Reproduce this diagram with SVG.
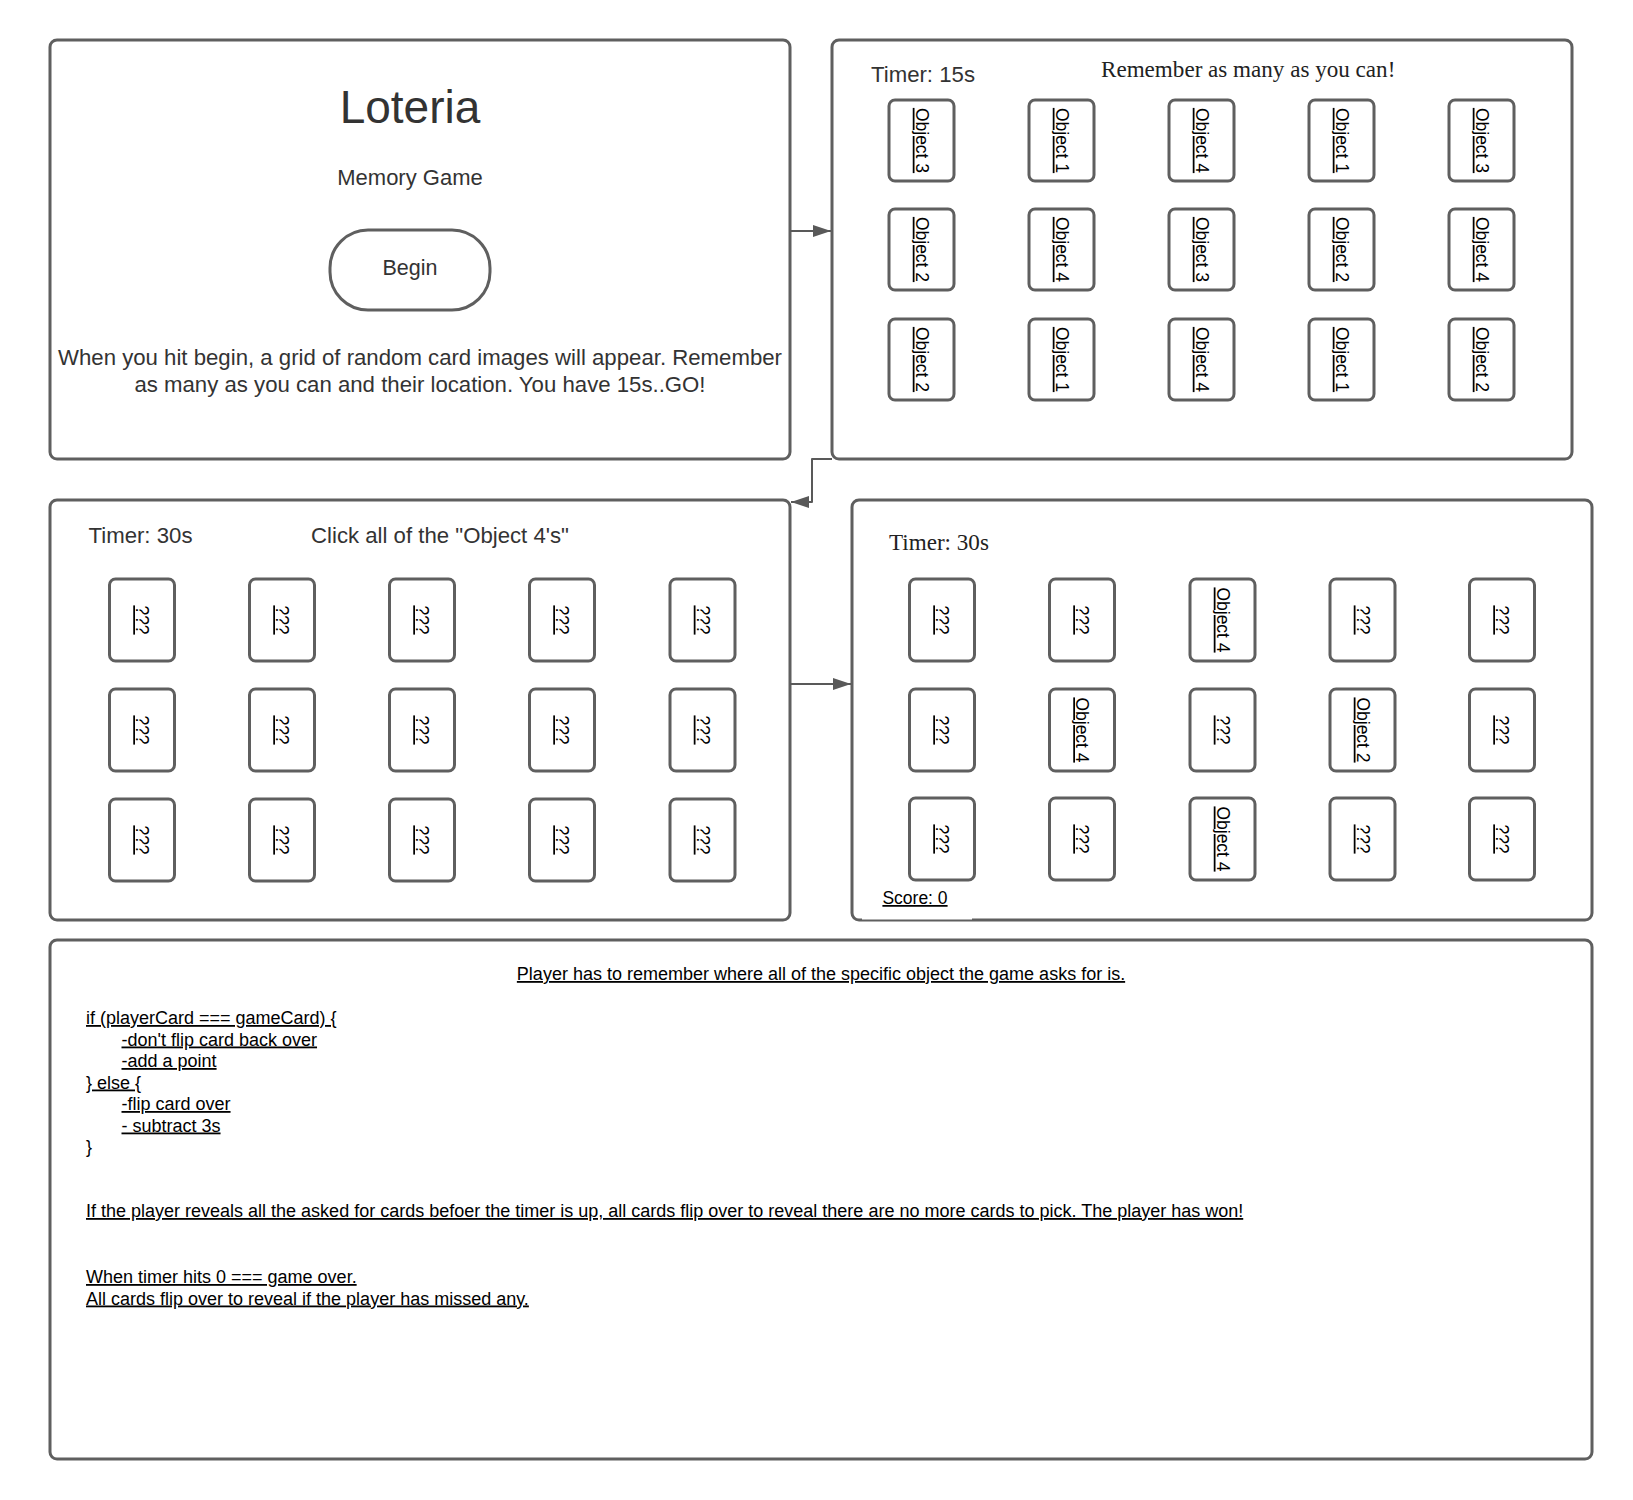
<svg xmlns="http://www.w3.org/2000/svg" width="1633" height="1500" viewBox="0 0 1633 1500">
<style>
.panel{fill:#fff;stroke:#5f5f5f;stroke-width:3}
.card{fill:#fff;stroke:#5f5f5f;stroke-width:3}
.ui{font-family:"Liberation Sans",Arial,sans-serif;fill:#333}
.serif{font-family:"Liberation Serif","Times New Roman",serif;fill:#222}
.ct{font-family:"Liberation Sans",Arial,sans-serif;font-size:17.5px;fill:#000;text-anchor:middle;text-decoration:underline}
.note{font-family:"Liberation Sans",Arial,sans-serif;font-size:18px;fill:#000;text-decoration:underline}
.conn{fill:none;stroke:#595959;stroke-width:2;stroke-linejoin:round}
</style>
<defs>
<marker id="arr" markerUnits="userSpaceOnUse" markerWidth="20" markerHeight="14" refX="18" refY="6" orient="auto">
<path d="M0,0 L18,6 L0,12 z" fill="#595959"/>
</marker>
</defs>
<rect width="1633" height="1500" fill="#fff"/>

<g id="panel-start">
<rect class="panel" x="50" y="40" width="740" height="419" rx="7"/>
<text class="ui" x="410" y="123" font-size="46" text-anchor="middle">Loteria</text>
<text class="ui" x="410" y="185" font-size="22" text-anchor="middle">Memory Game</text>
<g id="begin-button">
<rect class="card" x="330" y="230" width="160" height="80" rx="38"/>
<text class="ui" x="410" y="275" font-size="21.5" text-anchor="middle">Begin</text>
</g>
<text class="ui" font-size="22.2" text-anchor="middle"><tspan x="420" y="365">When you hit begin, a grid of random card images will appear. Remember</tspan><tspan x="420" y="391.5">as many as you can and their location. You have 15s..GO!</tspan></text>
</g>

<g id="panel-memorize">
<rect class="panel" x="832" y="40" width="740" height="419" rx="7"/>
<text class="ui" x="871" y="82" font-size="22.2">Timer: 15s</text>
<text class="serif" x="1101" y="77" font-size="23.1">Remember as many as you can!</text>
<g id="m-r1">
<rect class="card" x="889" y="100" width="65" height="81" rx="6"/><text class="ct" transform="translate(921.5,140.5) rotate(90)" y="6">Object 3</text>
<rect class="card" x="1029" y="100" width="65" height="81" rx="6"/><text class="ct" transform="translate(1061.5,140.5) rotate(90)" y="6">Object 1</text>
<rect class="card" x="1169" y="100" width="65" height="81" rx="6"/><text class="ct" transform="translate(1201.5,140.5) rotate(90)" y="6">Object 4</text>
<rect class="card" x="1309" y="100" width="65" height="81" rx="6"/><text class="ct" transform="translate(1341.5,140.5) rotate(90)" y="6">Object 1</text>
<rect class="card" x="1449" y="100" width="65" height="81" rx="6"/><text class="ct" transform="translate(1481.5,140.5) rotate(90)" y="6">Object 3</text>
</g>
<g id="m-r2">
<rect class="card" x="889" y="209" width="65" height="81" rx="6"/><text class="ct" transform="translate(921.5,249.5) rotate(90)" y="6">Object 2</text>
<rect class="card" x="1029" y="209" width="65" height="81" rx="6"/><text class="ct" transform="translate(1061.5,249.5) rotate(90)" y="6">Object 4</text>
<rect class="card" x="1169" y="209" width="65" height="81" rx="6"/><text class="ct" transform="translate(1201.5,249.5) rotate(90)" y="6">Object 3</text>
<rect class="card" x="1309" y="209" width="65" height="81" rx="6"/><text class="ct" transform="translate(1341.5,249.5) rotate(90)" y="6">Object 2</text>
<rect class="card" x="1449" y="209" width="65" height="81" rx="6"/><text class="ct" transform="translate(1481.5,249.5) rotate(90)" y="6">Object 4</text>
</g>
<g id="m-r3">
<rect class="card" x="889" y="319" width="65" height="81" rx="6"/><text class="ct" transform="translate(921.5,359.5) rotate(90)" y="6">Object 2</text>
<rect class="card" x="1029" y="319" width="65" height="81" rx="6"/><text class="ct" transform="translate(1061.5,359.5) rotate(90)" y="6">Object 1</text>
<rect class="card" x="1169" y="319" width="65" height="81" rx="6"/><text class="ct" transform="translate(1201.5,359.5) rotate(90)" y="6">Object 4</text>
<rect class="card" x="1309" y="319" width="65" height="81" rx="6"/><text class="ct" transform="translate(1341.5,359.5) rotate(90)" y="6">Object 1</text>
<rect class="card" x="1449" y="319" width="65" height="81" rx="6"/><text class="ct" transform="translate(1481.5,359.5) rotate(90)" y="6">Object 2</text>
</g>
</g>

<g id="panel-hidden">
<rect class="panel" x="50" y="500" width="740" height="420" rx="7"/>
<text class="ui" x="88.5" y="543" font-size="22.2">Timer: 30s</text>
<text class="ui" x="311" y="543" font-size="22.2">Click all of the "Object 4's"</text>
<g id="h-r1">
<rect class="card" x="109.5" y="579" width="65" height="82" rx="6"/><text class="ct" transform="translate(142,620) rotate(90)" y="6">???</text>
<rect class="card" x="249.5" y="579" width="65" height="82" rx="6"/><text class="ct" transform="translate(282,620) rotate(90)" y="6">???</text>
<rect class="card" x="389.5" y="579" width="65" height="82" rx="6"/><text class="ct" transform="translate(422,620) rotate(90)" y="6">???</text>
<rect class="card" x="529.5" y="579" width="65" height="82" rx="6"/><text class="ct" transform="translate(562,620) rotate(90)" y="6">???</text>
<rect class="card" x="670" y="579" width="65" height="82" rx="6"/><text class="ct" transform="translate(702.5,620) rotate(90)" y="6">???</text>
</g>
<g id="h-r2">
<rect class="card" x="109.5" y="689" width="65" height="82" rx="6"/><text class="ct" transform="translate(142,730) rotate(90)" y="6">???</text>
<rect class="card" x="249.5" y="689" width="65" height="82" rx="6"/><text class="ct" transform="translate(282,730) rotate(90)" y="6">???</text>
<rect class="card" x="389.5" y="689" width="65" height="82" rx="6"/><text class="ct" transform="translate(422,730) rotate(90)" y="6">???</text>
<rect class="card" x="529.5" y="689" width="65" height="82" rx="6"/><text class="ct" transform="translate(562,730) rotate(90)" y="6">???</text>
<rect class="card" x="670" y="689" width="65" height="82" rx="6"/><text class="ct" transform="translate(702.5,730) rotate(90)" y="6">???</text>
</g>
<g id="h-r3">
<rect class="card" x="109.5" y="799" width="65" height="82" rx="6"/><text class="ct" transform="translate(142,840) rotate(90)" y="6">???</text>
<rect class="card" x="249.5" y="799" width="65" height="82" rx="6"/><text class="ct" transform="translate(282,840) rotate(90)" y="6">???</text>
<rect class="card" x="389.5" y="799" width="65" height="82" rx="6"/><text class="ct" transform="translate(422,840) rotate(90)" y="6">???</text>
<rect class="card" x="529.5" y="799" width="65" height="82" rx="6"/><text class="ct" transform="translate(562,840) rotate(90)" y="6">???</text>
<rect class="card" x="670" y="799" width="65" height="82" rx="6"/><text class="ct" transform="translate(702.5,840) rotate(90)" y="6">???</text>
</g>
</g>

<g id="panel-play">
<rect class="panel" x="852" y="500" width="740" height="420" rx="7"/>
<text class="serif" x="889" y="550" font-size="23.1">Timer: 30s</text>
<g id="p-r1">
<rect class="card" x="909.5" y="579" width="65" height="82" rx="6"/><text class="ct" transform="translate(942,620) rotate(90)" y="6">???</text>
<rect class="card" x="1049.5" y="579" width="65" height="82" rx="6"/><text class="ct" transform="translate(1082,620) rotate(90)" y="6">???</text>
<rect class="card" x="1190" y="579" width="65" height="82" rx="6"/><text class="ct" transform="translate(1222.5,620) rotate(90)" y="6">Object 4</text>
<rect class="card" x="1330" y="579" width="65" height="82" rx="6"/><text class="ct" transform="translate(1362.5,620) rotate(90)" y="6">???</text>
<rect class="card" x="1469.5" y="579" width="65" height="82" rx="6"/><text class="ct" transform="translate(1502,620) rotate(90)" y="6">???</text>
</g>
<g id="p-r2">
<rect class="card" x="909.5" y="689" width="65" height="82" rx="6"/><text class="ct" transform="translate(942,730) rotate(90)" y="6">???</text>
<rect class="card" x="1049.5" y="689" width="65" height="82" rx="6"/><text class="ct" transform="translate(1082,730) rotate(90)" y="6">Object 4</text>
<rect class="card" x="1190" y="689" width="65" height="82" rx="6"/><text class="ct" transform="translate(1222.5,730) rotate(90)" y="6">???</text>
<rect class="card" x="1330" y="689" width="65" height="82" rx="6"/><text class="ct" transform="translate(1362.5,730) rotate(90)" y="6">Object 2</text>
<rect class="card" x="1469.5" y="689" width="65" height="82" rx="6"/><text class="ct" transform="translate(1502,730) rotate(90)" y="6">???</text>
</g>
<g id="p-r3">
<rect class="card" x="909.5" y="798" width="65" height="82" rx="6"/><text class="ct" transform="translate(942,839) rotate(90)" y="6">???</text>
<rect class="card" x="1049.5" y="798" width="65" height="82" rx="6"/><text class="ct" transform="translate(1082,839) rotate(90)" y="6">???</text>
<rect class="card" x="1190" y="798" width="65" height="82" rx="6"/><text class="ct" transform="translate(1222.5,839) rotate(90)" y="6">Object 4</text>
<rect class="card" x="1330" y="798" width="65" height="82" rx="6"/><text class="ct" transform="translate(1362.5,839) rotate(90)" y="6">???</text>
<rect class="card" x="1469.5" y="798" width="65" height="82" rx="6"/><text class="ct" transform="translate(1502,839) rotate(90)" y="6">???</text>
</g>
<g id="score">
<rect x="862" y="885" width="110" height="34.5" fill="#fff"/>
<text class="ct" x="915" y="904">Score: 0</text>
</g>
</g>

<g id="panel-rules">
<rect class="panel" x="50" y="940" width="1542" height="519" rx="7"/>
<text class="note" x="821" y="980" text-anchor="middle">Player has to remember where all of the specific object the game asks for is.</text>
<text class="note" x="86" y="1024">if (playerCard === gameCard) {</text>
<text class="note" x="121.5" y="1045.5">-don't flip card back over</text>
<text class="note" x="121.5" y="1067">-add a point</text>
<text class="note" x="86" y="1088.5">} else {</text>
<text class="note" x="121.5" y="1110">-flip card over</text>
<text class="note" x="121.5" y="1131.5">- subtract 3s</text>
<text class="note" x="86" y="1153">}</text>
<text class="note" x="86" y="1217">If the player reveals all the asked for cards befoer the timer is up, all cards flip over to reveal there are no more cards to pick. The player has won!</text>
<text class="note" x="86" y="1283">When timer hits 0 === game over.</text>
<text class="note" x="86" y="1304.5">All cards flip over to reveal if the player has missed any.</text>
</g>

<g id="connectors">
<path class="conn" d="M790,231 L831,231" marker-end="url(#arr)"/>
<path class="conn" d="M832,459 L812,459 L812,502 L791,502" marker-end="url(#arr)"/>
<path class="conn" d="M790,684 L851,684" marker-end="url(#arr)"/>
</g>
</svg>
